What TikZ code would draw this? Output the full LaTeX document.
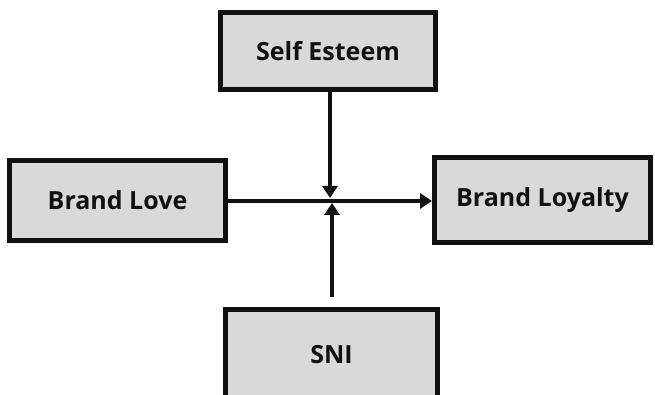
\documentclass[tikz,border=0pt]{standalone}
\usepackage{fontspec}
\setmainfont{Open Sans}
\usepackage{tikz}
\usetikzlibrary{arrows.meta, positioning, calc}
\definecolor{boxgray}{RGB}{217, 217, 217}
\definecolor{inkblack}{RGB}{17, 17, 17}

\begin{document}
\begin{tikzpicture}[x=1pt, y=-1pt, >={Triangle[width=15pt, length=12pt]},
    varbox/.style={draw=inkblack, fill=boxgray, line width=5pt, inner sep=0pt,
        font=\fontsize{25}{29}\selectfont\bfseries, text=inkblack},
    link/.style={->, line width=3.5pt, inkblack}]
    \useasboundingbox (0,0) rectangle (655,395);
    \node[varbox, minimum width=215pt, minimum height=77pt] (esteem) at (328, 51) {Self Esteem};
    \node[varbox, minimum width=216pt, minimum height=80pt] (love) at (117.5, 200.5) {Brand Love};
    \node[varbox, minimum width=216pt, minimum height=85pt] (loyalty) at (542.5, 200) {Brand Loyalty};
    \node[varbox, minimum width=212pt, minimum height=91pt] (sni) at (331.5, 355) {SNI};
    \coordinate (cross) at (330, 201);
    \draw[link] (love.east |- cross) -- (loyalty.west |- cross);
    \draw[link] (esteem.south -| cross) -- ($(cross)+(0,-3)$);
    \draw[link, shorten <=10pt] (sni.north -| 332,0) -- ($(cross)+(2,2)$);
\end{tikzpicture}
\end{document}
